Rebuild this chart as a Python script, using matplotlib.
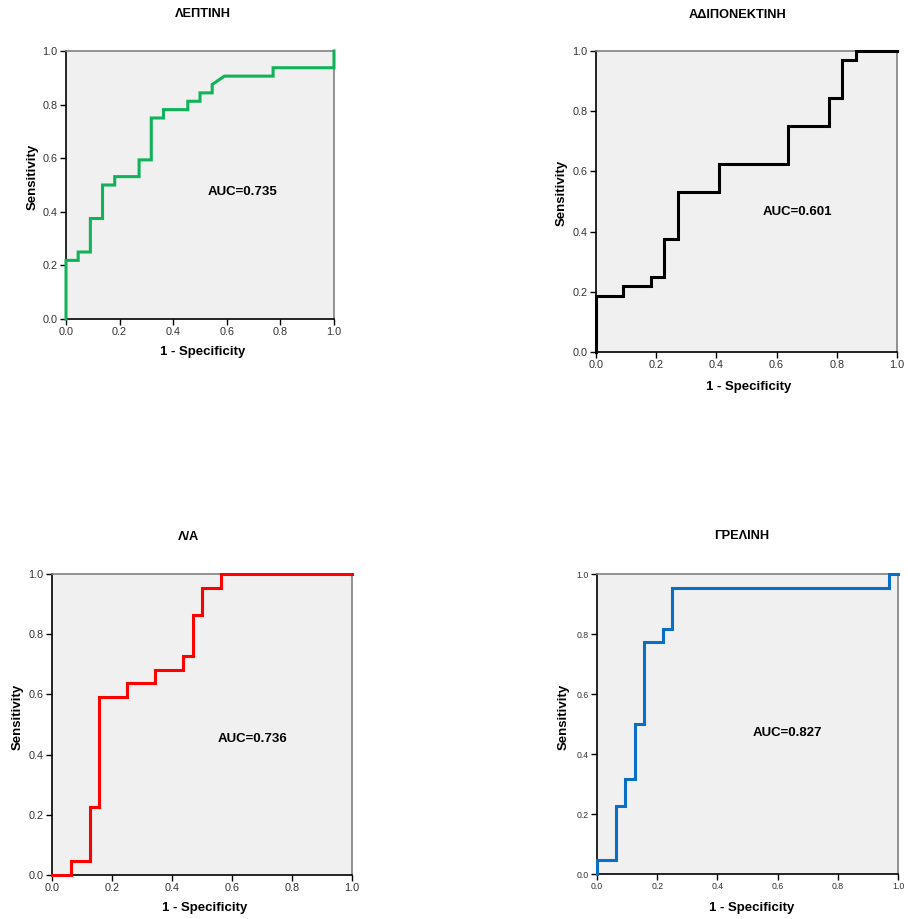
import numpy as np
import matplotlib
matplotlib.use("Agg")
import matplotlib.pyplot as plt

plt.rcParams['font.family'] = ['Liberation Sans', 'DejaVu Sans']

# ROC vertices (1 - specificity, sensitivity)
lep_fpr = [0, 0, 1/22, 1/22, 2/22, 2/22, 3/22, 3/22, 4/22, 4/22, 6/22, 6/22, 7/22, 7/22,
           8/22, 8/22, 10/22, 10/22, 11/22, 11/22, 12/22, 12/22, 13/22, 17/22, 17/22, 1, 1]
lep_tpr = [0, 7/32, 7/32, 8/32, 8/32, 12/32, 12/32, 16/32, 16/32, 17/32, 17/32, 19/32, 19/32, 24/32,
           24/32, 25/32, 25/32, 26/32, 26/32, 27/32, 27/32, 28/32, 29/32, 29/32, 30/32, 30/32, 1]

adi_fpr = [0, 0, 2/22, 2/22, 4/22, 4/22, 5/22, 5/22, 6/22, 6/22, 9/22, 9/22, 14/22, 14/22,
           17/22, 17/22, 18/22, 18/22, 19/22, 19/22, 1]
adi_tpr = [0, 6/32, 6/32, 7/32, 7/32, 8/32, 8/32, 12/32, 12/32, 17/32, 17/32, 20/32, 20/32, 24/32,
           24/32, 27/32, 27/32, 31/32, 31/32, 1, 1]

la_fpr = [0, 2/32, 2/32, 4/32, 4/32, 5/32, 5/32, 8/32, 8/32, 11/32, 11/32, 14/32, 14/32,
          15/32, 15/32, 16/32, 16/32, 18/32, 18/32, 1]
la_tpr = [0, 0, 1/22, 1/22, 5/22, 5/22, 13/22, 13/22, 14/22, 14/22, 15/22, 15/22, 16/22,
          16/22, 19/22, 19/22, 21/22, 21/22, 1, 1]

ghr_fpr = [0, 0, 2/32, 2/32, 3/32, 3/32, 4/32, 4/32, 5/32, 5/32, 7/32, 7/32, 8/32, 8/32,
           31/32, 31/32, 1]
ghr_tpr = [0, 1/22, 1/22, 5/22, 5/22, 7/22, 7/22, 11/22, 11/22, 17/22, 17/22, 18/22, 18/22, 21/22,
           21/22, 1, 1]

titles = ['ΛΕΠΤΙΝΗ', 'ΑΔΙΠΟΝΕΚΤΙΝΗ', 'Λ/Α', 'ΓΡΕΛΙΝΗ']
auc_labels = ['AUC=0.735', 'AUC=0.601', 'AUC=0.736', 'AUC=0.827']
colors = ['#10b25a', '#000000', '#ff0000', '#0a6fc4']
ticks = [0.0, 0.2, 0.4, 0.6, 0.8, 1.0]

W, H = 908, 919
fig = plt.figure(figsize=(W / 100, H / 100), dpi=100)

# axes boxes in pixels: left, top, right, bottom
boxes = [(66, 51, 334, 319), (596, 51, 897, 352), (52, 574, 352, 875), (597, 574, 898, 874)]
title_pos = [(203, 14), (738, 15), (189, 537), (742, 536)]
xlab_pos = [(203, 352), (749, 387), (205, 908), (752, 908)]
ylab_pos = [(33, 177), (562, 193), (18, 717), (564, 717)]
auc_pos = [(0.657, 0.474), (0.669, 0.465), (0.668, 0.452), (0.632, 0.470)]
tick_sizes = [7.8, 7.8, 7.8, 6.3]

curves = [(lep_fpr, lep_tpr), (adi_fpr, adi_tpr), (la_fpr, la_tpr), (ghr_fpr, ghr_tpr)]

for i in range(4):
    l, t, r, b = boxes[i]
    ax = fig.add_axes([l / W, 1 - b / H, (r - l) / W, (b - t) / H])
    ax.set_facecolor('#f0f0f0')
    x, y = curves[i]
    ax.plot(x, y, color=colors[i], lw=2.2, solid_joinstyle='miter', clip_on=False, zorder=3)
    ax.set_xlim(0, 1)
    ax.set_ylim(0, 1)
    ax.set_xticks(ticks)
    ax.set_yticks(ticks)
    ax.set_xticklabels(['%.1f' % v for v in ticks])
    ax.set_yticklabels(['%.1f' % v for v in ticks])
    ax.tick_params(direction='out', length=4, width=1, labelsize=tick_sizes[i],
                   labelcolor='#333333', pad=2)
    for s in ['left', 'bottom']:
        ax.spines[s].set_color('black')
        ax.spines[s].set_linewidth(1.2)
    for s in ['top', 'right']:
        ax.spines[s].set_color('#808080')
        ax.spines[s].set_linewidth(1.2)
    ax.text(auc_pos[i][0], auc_pos[i][1], auc_labels[i], transform=ax.transAxes,
            ha='center', va='center', fontsize=9.5, fontweight='bold')

    fig.text(title_pos[i][0] / W, 1 - title_pos[i][1] / H, titles[i],
             ha='center', va='center', fontsize=9.2, fontweight='bold')
    fig.text(xlab_pos[i][0] / W, 1 - xlab_pos[i][1] / H, '1 - Specificity',
             ha='center', va='center', fontsize=9.5, fontweight='bold')
    fig.text(ylab_pos[i][0] / W, 1 - ylab_pos[i][1] / H, 'Sensitivity', rotation=90,
             ha='center', va='center', fontsize=9.5, fontweight='bold')

fig.savefig('out.png', dpi=100)
